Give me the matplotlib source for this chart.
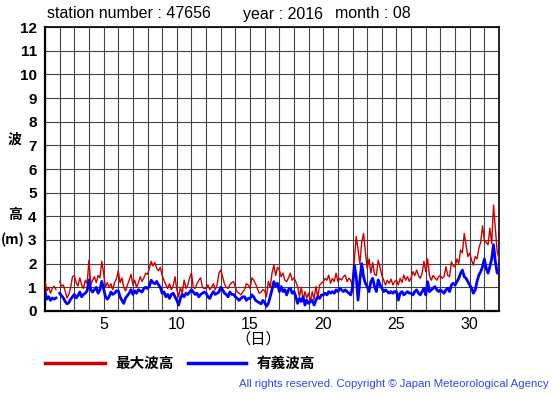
import numpy as np
import matplotlib
matplotlib.use("Agg")
from matplotlib import pyplot as plt

plt.rcParams['font.family'] = ['Liberation Sans', 'Noto Sans CJK JP', 'DejaVu Sans']

nan = np.nan

# 3-hourly samples, 8 per day, day 1 .. day 31 plus the end point at day 32
max_wave = [
    1.25, 0.85, 1.0, 0.75, 0.95, 1.05, 0.9, nan,      # 1
    1.25, 1.05, 1.1, 0.85, 0.55, 0.7, 1.0, 1.45,      # 2
    1.5, 1.2, 1.05, 1.4, 1.1, 0.95, 1.3, 1.15,        # 3
    2.15, 1.1, 1.3, 1.45, 1.2, 1.5, 1.4, 2.1,         # 4
    1.6, 1.0, 1.2, 1.0, 1.15, 0.9, 1.2, 1.35,         # 5
    1.7, 1.2, 1.4, 1.0, 0.85, 1.1, 1.3, 1.55,         # 6
    1.1, 1.3, 1.0, 1.2, 1.45, 1.25, 1.4, 1.6,         # 7
    1.55, 1.8, 2.1, 1.9, 2.05, 1.8, 1.7, 1.85,        # 8
    1.5, 1.3, 1.1, 0.95, 1.15, 0.9, 1.05, 1.45,       # 9
    0.9, 0.6, 1.0, 0.75, 1.3, 0.95, 1.1, 1.4,         # 10
    1.6, 1.0, 0.95, 1.15, 1.3, 1.4, 1.0, 0.95,        # 11
    0.95, 1.1, 0.9, 1.0, 1.15, 0.9, 1.1, 1.6,         # 12
    1.73, 1.45, 1.15, 1.0, 0.95, 1.1, 1.2, 1.24,      # 13
    1.0, 0.8, 0.75, 0.68, 0.8, 0.9, 1.15, 1.1,        # 14
    0.95, 1.4, 1.3, 1.15, 0.95, 0.75, 0.8, 0.9,       # 15
    0.85, 0.6, 1.25, 1.0, 1.6, 1.94, 1.5, 1.85,       # 16
    1.73, 1.45, 1.6, 1.3, 1.24, 1.4, 1.6, 1.3,        # 17
    1.4, 1.24, 1.03, 0.6, 1.0, 0.46, 0.82, 0.55,      # 18
    0.75, 0.4, 0.82, 0.5, 1.03, 0.55, 1.1, 1.17,      # 19
    1.24, 1.38, 1.3, 1.52, 1.17, 1.38, 1.24, 1.6,     # 20
    1.24, 1.38, 1.31, 1.45, 1.52, 1.24, 1.38, 1.31,   # 21
    1.0, 2.2, 3.15, 2.6, 2.0, 2.9, 3.28, 2.5,         # 22
    1.8, 2.2, 1.6, 2.05, 1.55, 1.5, 2.15, 1.85,       # 23
    1.5, 1.3, 1.1, 1.3, 1.17, 1.35, 1.1, 1.25,        # 24
    1.3, 1.1, 1.38, 1.2, 1.52, 1.3, 1.45, 1.25,       # 25
    1.4, 1.66, 1.5, 1.73, 1.5, 1.38, 1.6, 2.1,        # 26
    1.66, 2.2, 1.5, 1.3, 1.5, 1.4, 1.3, 1.45,         # 27
    1.5, 1.38, 1.45, 1.87, 1.5, 1.45, 2.08, 1.9,      # 28
    1.87, 2.2, 2.0, 2.58, 2.45, 3.28, 2.8, 2.3,       # 29
    2.45, 2.15, 1.94, 2.3, 2.2, 2.65, 2.9, 3.6,       # 30
    3.0, 2.9, 2.8, 3.5, 2.85, 4.48, 3.5, 2.5,         # 31
    2.2,
]

sig_wave = [
    0.8, 0.5, 0.6, 0.45, 0.55, 0.5, 0.55, nan,        # 1
    0.75, 0.65, 0.55, 0.4, 0.3, 0.35, 0.5, 0.6,       # 2
    0.7, 0.55, 0.65, 0.8, 0.6, 0.7, 0.75, 0.85,       # 3
    1.3, 0.9, 0.8, 0.9, 1.0, 0.75, 0.9, 1.25,         # 4
    0.95, 0.6, 0.5, 0.6, 0.8, 0.7, 0.75, 0.85,        # 5
    0.85, 0.6, 0.45, 0.32, 0.55, 0.65, 0.75, 0.9,     # 6
    0.7, 0.85, 0.75, 0.9, 0.85, 0.8, 0.95, 1.0,       # 7
    0.95, 1.05, 1.3, 1.2, 1.15, 1.25, 1.1, 1.0,       # 8
    0.75, 0.8, 0.6, 0.7, 0.53, 0.7, 0.75, 0.6,        # 9
    0.45, 0.25, 0.55, 0.7, 0.6, 0.75, 0.7, 0.8,       # 10
    0.9, 0.8, 0.7, 0.75, 0.6, 0.7, 0.75, 0.8,         # 11
    0.75, 0.6, 0.53, 0.7, 0.82, 0.7, 0.75, 0.8,       # 12
    1.0, 0.9, 0.75, 0.7, 0.6, 0.8, 0.7, 0.7,          # 13
    0.6, 0.53, 0.45, 0.53, 0.6, 0.6, 0.45, 0.53,      # 14
    0.53, 0.68, 0.6, 0.45, 0.4, 0.35, 0.3, 0.45,      # 15
    0.35, 0.2, 0.32, 0.6, 0.9, 1.24, 1.05, 1.17,      # 16
    0.82, 1.03, 0.82, 0.9, 0.68, 0.9, 0.96, 0.75,     # 17
    0.82, 0.6, 0.32, 0.53, 0.4, 0.6, 0.25, 0.46,      # 18
    0.32, 0.4, 0.46, 0.25, 0.46, 0.6, 0.53, 0.68,     # 19
    0.68, 0.75, 0.68, 0.82, 0.75, 0.82, 0.75, 0.89,   # 20
    0.82, 0.96, 0.89, 0.82, 0.89, 0.82, 0.75, 0.68,   # 21
    1.0, 1.94, 1.45, 0.46, 1.31, 2.0, 1.45, 1.17,     # 22
    1.03, 0.82, 1.24, 1.38, 1.03, 0.82, 1.31, 1.1,    # 23
    0.96, 0.82, 0.89, 0.82, 0.75, 0.82, 0.75, 0.82,   # 24
    0.82, 0.46, 0.75, 0.82, 0.68, 0.75, 0.82, 0.75,   # 25
    0.75, 0.68, 0.82, 0.89, 0.75, 0.68, 0.82, 0.96,   # 26
    0.68, 1.24, 0.82, 0.89, 0.96, 1.03, 0.9, 0.82,    # 27
    0.89, 0.82, 0.75, 0.89, 0.96, 0.82, 1.1, 1.17,    # 28
    1.1, 1.24, 1.38, 1.59, 1.73, 1.45, 1.38, 1.24,    # 29
    1.1, 0.96, 0.75, 0.89, 1.24, 1.52, 1.66, 1.87,    # 30
    2.2, 1.8, 1.6, 1.87, 2.2, 2.8, 2.1, 1.6,          # 31
    1.65,
]

days = 1 + np.arange(len(max_wave)) / 8.0
x_ticks = [5, 10, 15, 20, 25, 30]
y_ticks = list(range(0, 13))

fig = plt.figure(figsize=(5.55, 3.95), dpi=100)
ax = fig.add_axes([0.0811, 0.2127, 0.8180, 0.7189])

ax.plot(days, max_wave, color='#cc0000', lw=1.0, zorder=3)
ax.plot(days, sig_wave, color='#0000ff', lw=2.0, zorder=4)

ax.set_xlim(1, 32)
ax.set_ylim(0, 12)
ax.set_xticks(range(1, 33), minor=True)
ax.set_xticks(x_ticks)
ax.set_yticks(y_ticks)
ax.grid(True, which='both', color='#444444', lw=0.8)
ax.set_axisbelow(True)
ax.tick_params(which='both', length=0)
ax.tick_params(axis='x', labelsize=11.5, pad=4)
ax.tick_params(axis='y', labelsize=11, pad=6)
for lab in ax.get_yticklabels():
    lab.set_fontweight('bold')
for side in ['left', 'bottom', 'top', 'right']:
    ax.spines[side].set_color('black')
ax.spines['left'].set_linewidth(1.6)
ax.spines['bottom'].set_linewidth(1.6)
ax.spines['top'].set_linewidth(1.2)
ax.spines['right'].set_linewidth(1.2)

fig.text(47 / 555, 1 - 14 / 395, 'station number : 47656', fontsize=11.5, va='center')
fig.text(243 / 555, 1 - 14 / 395, 'year : 2016', fontsize=11.5, va='center')
fig.text(335 / 555, 1 - 14 / 395, 'month : 08', fontsize=11.5, va='center')

cjk = ['Noto Sans CJK JP', 'DejaVu Sans']
fig.text(15 / 555, 1 - 140 / 395, '波', fontsize=10, fontweight='bold', family=cjk, ha='center', va='center')
fig.text(15 / 555, 1 - 215 / 395, '高', fontsize=10, fontweight='bold', family=cjk, ha='center', va='center')
fig.text(13 / 555, 1 - 240 / 395, '(m)', fontsize=10, fontweight='bold', family=cjk, ha='center', va='center')
fig.text(258 / 555, 1 - 339 / 395, '（日）', fontsize=11, family=cjk, ha='center', va='center')

# legend below the plot
fig.add_artist(plt.Line2D([45 / 555, 105 / 555], [1 - 363 / 395] * 2, color='#cc0000', lw=2.5))
fig.text(115 / 555, 1 - 363 / 395, '最大波高', fontsize=10.5, fontweight='bold', family=cjk, va='center')
fig.add_artist(plt.Line2D([188 / 555, 246 / 555], [1 - 363 / 395] * 2, color='#0000ff', lw=2.5))
fig.text(257 / 555, 1 - 363 / 395, '有義波高', fontsize=10.5, fontweight='bold', family=cjk, va='center')

fig.text(549 / 555, 1 - 384 / 395,
         'All rights reserved. Copyright \u00a9 Japan Meteorological Agency',
         fontsize=8.2, color='#3344ee', ha='right', va='center')

fig.savefig('out.png', dpi=100)
